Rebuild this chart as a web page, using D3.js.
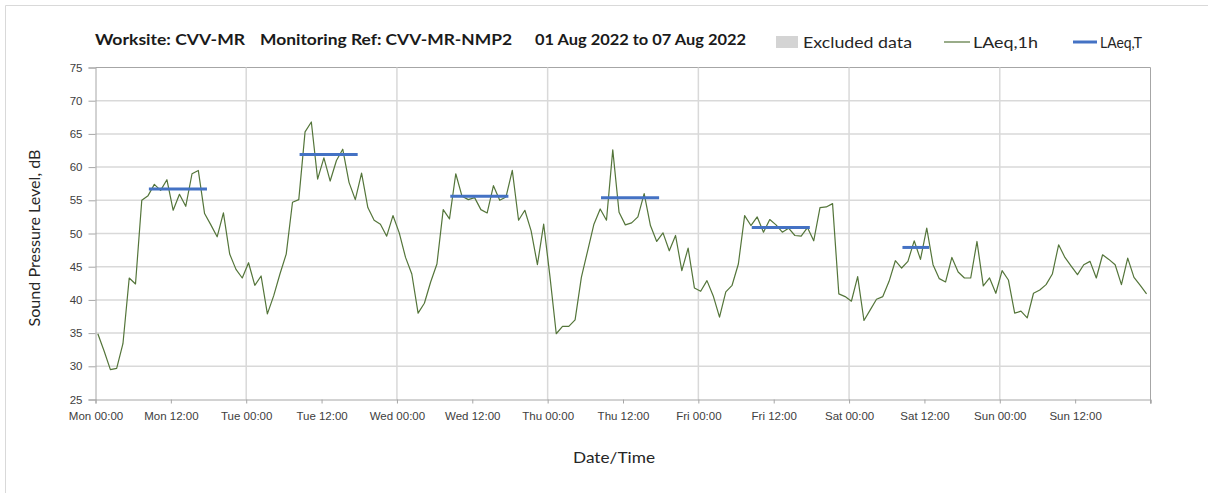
<!DOCTYPE html>
<html><head><meta charset="utf-8">
<script src="https://cdn.jsdelivr.net/npm/d3@7"></script>
<style>
html,body{margin:0;padding:0;background:#fff;overflow:hidden;}
svg{display:block;font-family:Lato,"Open Sans",sans-serif;}
</style></head>
<body><svg id="chart" width="1208" height="493"></svg>
<script>
// ---- data ----
const hourlyLevels = [
34.9,32.3,29.5,29.7,33.4,43.3,42.4,55.0,55.7,57.4,56.5,58.1,53.5,55.9,54.1,59.0,59.5,53.0,51.3,49.5,53.1,46.9,44.6,43.3,
45.6,42.2,43.6,37.9,40.6,43.9,46.9,54.7,55.1,65.3,66.8,58.2,61.4,57.9,61.0,62.7,57.7,55.1,59.1,53.9,52.0,51.4,49.6,52.7,
50.1,46.4,43.9,38.0,39.5,42.7,45.4,53.6,52.2,59.0,55.6,55.1,55.4,53.6,53.1,57.2,55.0,55.5,59.5,52.0,53.5,50.4,45.3,51.4,
43.5,34.9,36.0,36.0,37.0,43.4,47.4,51.4,53.7,52.0,62.6,53.2,51.3,51.6,52.5,56.0,51.2,48.8,50.1,47.4,49.7,44.4,47.8,41.8,
41.3,42.9,40.6,37.4,41.2,42.2,45.4,52.7,51.2,52.5,50.2,52.1,51.3,50.2,50.8,49.7,49.6,50.9,48.9,53.9,54.0,54.5,40.9,40.5,
39.8,43.5,36.9,38.5,40.1,40.5,42.8,45.9,44.8,45.8,48.9,46.1,50.8,45.3,43.2,42.7,46.4,44.2,43.3,43.3,48.8,42.1,43.3,41.0,
44.4,43.0,38.0,38.3,37.3,41.0,41.5,42.3,43.9,48.3,46.4,45.1,43.8,45.3,45.8,43.3,46.8,46.1,45.3,42.3,46.3,43.4,42.2,40.9
];
const sampleOffsetHours = 0.37;          // timestamp offset of each hourly sample
const periodStart = [8.5, 32.5, 56.5, 80.5, 104.5, 128.5];
const periodEnd   = [17.75, 41.75, 65.75, 89.75, 113.75, 132.75];
const periodLevel = [56.7, 61.9, 55.6, 55.4, 50.9, 47.9];
const tickHours = [0,12,24,36,48,60,72,84,96,108,120,132,144,156,168];
const tickLabels = ["Mon 00:00","Mon 12:00","Tue 00:00","Tue 12:00","Wed 00:00","Wed 12:00","Thu 00:00","Thu 12:00",
  "Fri 00:00","Fri 12:00","Sat 00:00","Sat 12:00","Sun 00:00","Sun 12:00",""];
const dayBoundaries = [24,48,72,96,120,144];
const yTicks = [25,30,35,40,45,50,55,60,65,70,75];
const titleParts = ["Worksite: CVV-MR", "Monitoring Ref: CVV-MR-NMP2", "01 Aug 2022 to 07 Aug 2022"];
const legendLabels = ["Excluded data", "LAeq,1h", "LAeq,T"];

// ---- layout ----
const svg = d3.select("#chart");
const L = 95.5, R = 1150.5, T = 67.5, B = 399.5;
const x = d3.scaleLinear().domain([0,168]).range([L,R]);
const y = d3.scaleLinear().domain([25,75]).range([B,T]);

// outer frame (left/top visible)
svg.append("path").attr("d","M5.5,493V5.5H1208")
  .attr("fill","none").attr("stroke","#d9d9d9");

// horizontal gridlines
svg.append("g").selectAll("line").data(yTicks.filter(v=>v>25)).join("line")
  .attr("x1",L).attr("x2",R).attr("y1",d=>y(d)).attr("y2",d=>y(d))
  .attr("stroke",d=>d===75?"#a6a6a6":"#d9d9d9").attr("stroke-width",d=>d===75?1:1.5);
// vertical day gridlines
svg.append("g").selectAll("line").data(dayBoundaries).join("line")
  .attr("x1",d=>x(d)).attr("x2",d=>x(d)).attr("y1",T).attr("y2",B)
  .attr("stroke","#d9d9d9").attr("stroke-width",1.5);

// axes
const yAxis = d3.axisLeft(y).tickValues(yTicks).tickSize(7).tickPadding(6);
const gy = svg.append("g").attr("transform",`translate(${L},0)`).call(yAxis);
gy.select(".domain").attr("stroke","#a6a6a6");
gy.selectAll(".tick line").attr("stroke","#a6a6a6");
gy.selectAll("text").attr("font-size",11.5).attr("fill","#404040");

const xAxis = d3.axisBottom(x).tickValues(tickHours).tickFormat((d,i)=>tickLabels[i]).tickSize(4).tickPadding(8);
const gx = svg.append("g").attr("transform",`translate(0,${B})`).call(xAxis);
gx.select(".domain").attr("stroke","#a6a6a6");
gx.selectAll(".tick line").attr("stroke","#a6a6a6");
gx.selectAll("text").attr("font-size",11.5).attr("fill","#404040");

// right border
svg.append("line").attr("x1",R).attr("x2",R).attr("y1",T).attr("y2",B+4).attr("stroke","#a6a6a6");

// LAeq,1h line
const line = d3.line().x((d,i)=>x(i+sampleOffsetHours)).y(d=>y(d));
svg.append("path").datum(hourlyLevels).attr("d",line)
  .attr("fill","none").attr("stroke","#54753a").attr("stroke-width",1.2).attr("stroke-linejoin","round");

// LAeq,T segments
svg.append("g").selectAll("line").data(periodLevel).join("line")
  .attr("x1",(d,i)=>x(periodStart[i])).attr("x2",(d,i)=>x(periodEnd[i]))
  .attr("y1",d=>y(d)).attr("y2",d=>y(d))
  .attr("stroke","#4472c4").attr("stroke-width",3);

// title
const titleX = [95, 260, 535];
const titleW = [150, 252, 211];
svg.append("g").selectAll("text").data(titleParts).join("text")
  .attr("x",(d,i)=>titleX[i]).attr("y",45)
  .attr("textLength",(d,i)=>titleW[i]).attr("lengthAdjust","spacingAndGlyphs")
  .attr("font-size",15.5).attr("font-weight","bold").attr("fill","#1a1a1a").text(d=>d);

// legend
const lg = svg.append("g");
lg.append("rect").attr("x",776).attr("y",36).attr("width",22).attr("height",12).attr("fill","#d4d4d4");
lg.append("line").attr("x1",944).attr("x2",970).attr("y1",42).attr("y2",42).attr("stroke","#54753a").attr("stroke-width",1.2);
lg.append("line").attr("x1",1073).attr("x2",1097).attr("y1",42).attr("y2",42).attr("stroke","#4472c4").attr("stroke-width",3);
const legX = [803, 973, 1100], legW = [109, 65, 42];
lg.selectAll("text").data(legendLabels).join("text")
  .attr("x",(d,i)=>legX[i]).attr("y",48)
  .attr("textLength",(d,i)=>legW[i]).attr("lengthAdjust","spacingAndGlyphs")
  .attr("font-size",16).attr("fill","#262626").text(d=>d);

// axis titles
svg.append("text").attr("transform","translate(40,238) rotate(-90)").attr("text-anchor","middle")
  .attr("textLength",177).attr("lengthAdjust","spacingAndGlyphs")
  .attr("font-size",16).attr("fill","#262626").text("Sound Pressure Level, dB");
svg.append("text").attr("x",614).attr("y",463).attr("text-anchor","middle")
  .attr("textLength",82).attr("lengthAdjust","spacingAndGlyphs")
  .attr("font-size",16).attr("fill","#262626").text("Date/Time");
</script></body></html>
